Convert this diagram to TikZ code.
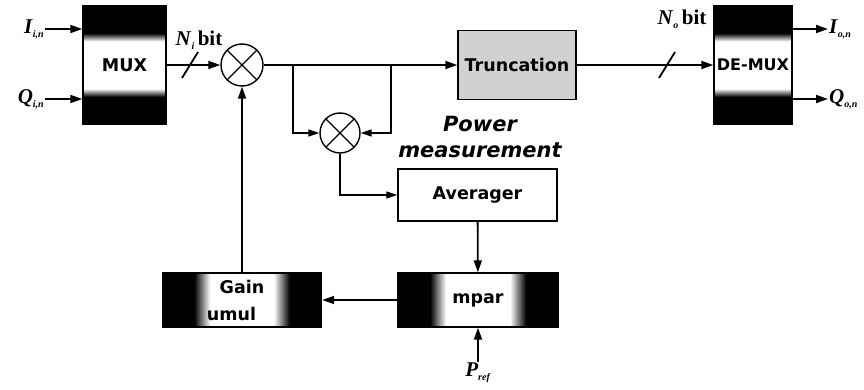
\documentclass[tikz,border=0pt]{standalone}
\usepackage{fontspec}
\setmainfont{Liberation Serif}
\newfontfamily\blockfont{DejaVu Sans}
\usetikzlibrary{arrows.meta, shadings}

% shadings of the dark boxes (path covers 25bp..75bp)
\pgfdeclareverticalshading{bandv}{100bp}{color(0bp)=(black); color(36.5bp)=(black); color(40bp)=(white); color(60bp)=(white); color(63.5bp)=(black); color(100bp)=(black)}
\pgfdeclarehorizontalshading{bandh}{100bp}{color(0bp)=(black); color(35bp)=(black); color(40bp)=(white); color(60bp)=(white); color(65bp)=(black); color(100bp)=(black)}

\newcommand\sig[2]{\textbf{\textit{#1}}\raisebox{-4pt}{\fontsize{10}{10}\selectfont\textbf{\textit{#2}}}}

\begin{document}
\begin{tikzpicture}[x=1pt, y=-1pt,
    wire/.style={line width=1.8pt},
    sig/.style={wire, -{Triangle[length=12pt,width=8pt]}},
    tap/.style={line width=1.2pt, -{Triangle[length=11pt,width=7pt]}},
    blk/.style={draw, line width=1.4pt, inner sep=0pt, font=\blockfont\bfseries\fontsize{17.5}{27}\selectfont},
    darkv/.style={blk, shade, shading=bandv},
    darkh/.style={blk, shade, shading=bandh, align=center},
    mult/.style={circle, draw, line width=1.4pt, minimum size=#1,
        path picture={\draw[line width=1.4pt]
            (path picture bounding box.north west) -- (path picture bounding box.south east)
            (path picture bounding box.north east) -- (path picture bounding box.south west);}},
    lbl/.style={font=\fontsize{21}{22}\selectfont, inner sep=1pt}]

    \useasboundingbox (0,0) rectangle (864,390);

    % Blocks
    \node[darkv, minimum width=83pt, minimum height=118pt] (mux) at (124.5,65) {MUX};
    \node[darkv, minimum width=78pt, minimum height=118pt, font=\blockfont\bfseries\fontsize{16}{20}\selectfont] (demux) at (753,65) {DE-MUX};
    \node[blk, fill=black!18, minimum width=118pt, minimum height=69pt] (trunc) at (517,65) {Truncation};
    \node[blk, minimum width=159pt, minimum height=52pt] (avg) at (477.5,195) {Averager};
    \node[darkh, minimum width=159pt, minimum height=54pt] (gain) at (242,300) {Gain\\umul\hspace*{21pt}};
    \node[darkh, minimum width=160pt, minimum height=54pt] (cmp) at (478,300) {mpar};

    % Multipliers
    \node[mult=42pt] (m1) at (242,65) {};
    \node[mult=40pt] (m2) at (340,133) {};

    % Power measurement label
    \node[font=\blockfont\bfseries\itshape\fontsize{21}{26}\selectfont, align=center] (pwr) at (480,137) {Power\\measurement};

    % Inputs and outputs
    \coordinate (iin) at (45,29);
    \coordinate (qin) at (45,99);
    \coordinate (iout) at (828,29);
    \coordinate (qout) at (828,99);
    \coordinate (pin) at (478,362);
    \node[lbl, left] (ilab) at (iin) {\sig{I}{i,n}};
    \node[lbl, left] (qlab) at (qin) {\sig{Q}{i,n}};
    \node[lbl, right] (iolab) at (iout) {\sig{I}{o,n}};
    \node[lbl, right] (qolab) at (qout) {\sig{Q}{o,n}};
    \node[lbl, below] (preflab) at (pin) {\sig{P}{ref}};

    \draw[sig] (iin) -- (mux.west |- iin);
    \draw[sig] (qin) -- (mux.west |- qin);
    \draw[sig] (demux.east |- iout) -- (iout);
    \draw[sig] (demux.east |- qout) -- (qout);

    % Main path
    \draw[sig] (mux) -- (m1);
    \draw[sig] (m1) -- (trunc);
    \draw[sig] (trunc) -- (demux);

    % Bit width marks
    \coordinate (s1) at (190,65);
    \coordinate (s2) at (667,65);
    \draw[wire] ([shift={(-8,13)}]s1) -- ([shift={(8,-13)}]s1);
    \draw[wire] ([shift={(-8,13)}]s2) -- ([shift={(8,-13)}]s2);
    \node[lbl] (nilab) at (199,40) {\sig{N}{i}\,\textbf{bit}};
    \node[lbl] (nolab) at (682,19) {\sig{N}{o}\,\textbf{bit}};

    % Power measurement loop
    \coordinate (br1) at (293,65);
    \coordinate (br2) at (391,65);
    \draw[tap] (br1) |- (m2.west);
    \draw[tap] (br2) |- (m2.east);
    \draw[tap] (m2.south) |- (avg.west);
    \draw[sig] (avg) -- (cmp);
    \draw[sig] (pin) -- (cmp.south);
    \draw[sig] (cmp) -- (gain);
    \draw[sig] (gain) -- (m1);

\end{tikzpicture}
\end{document}
